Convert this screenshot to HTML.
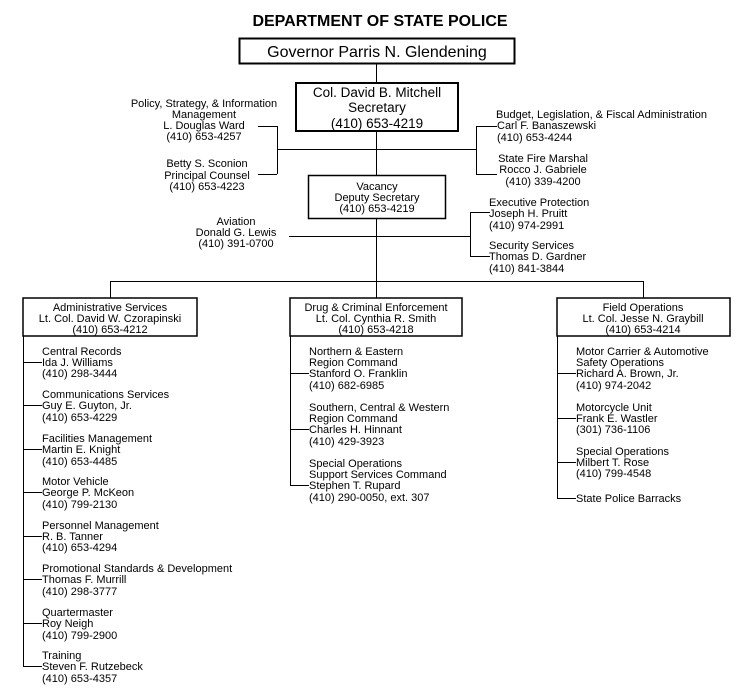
<!DOCTYPE html>
<html><head><meta charset="utf-8"><style>
html,body{margin:0;padding:0;background:#fff;}
svg{display:block;}
text{font-family:"Liberation Sans",Arial,sans-serif;font-size:11px;fill:#000;}
text.big{font-size:13.5px;}
</style></head><body>
<svg width="753" height="696" viewBox="0 0 753 696" xmlns="http://www.w3.org/2000/svg">
<g stroke="#000" fill="none" stroke-width="1">
<rect x="239.5" y="38.5" width="275" height="25" stroke-width="2"/>
<rect x="296" y="83" width="162" height="48" stroke-width="2"/>
<rect x="308.5" y="175.5" width="137" height="43" stroke-width="1.5"/>
<rect x="23" y="298" width="174" height="38" stroke-width="1.5"/>
<rect x="290" y="298" width="172" height="38" stroke-width="1.5"/>
<rect x="557" y="298" width="173" height="38" stroke-width="1.5"/>
<line x1="376.5" y1="64" x2="376.5" y2="83"/>
<line x1="376.5" y1="131" x2="376.5" y2="175"/>
<line x1="376.5" y1="219" x2="376.5" y2="281"/>
<line x1="277" y1="149.5" x2="477" y2="149.5"/>
<line x1="277.5" y1="126" x2="277.5" y2="174"/>
<line x1="258" y1="126.5" x2="277" y2="126.5"/>
<line x1="258" y1="174.5" x2="277" y2="174.5"/>
<line x1="476.5" y1="126" x2="476.5" y2="174"/>
<line x1="476" y1="126.5" x2="497" y2="126.5"/>
<line x1="476" y1="174.5" x2="497" y2="174.5"/>
<line x1="289" y1="236.5" x2="470" y2="236.5"/>
<line x1="470.5" y1="212" x2="470.5" y2="257"/>
<line x1="470" y1="212.5" x2="490" y2="212.5"/>
<line x1="470" y1="256.5" x2="490" y2="256.5"/>
<line x1="110" y1="281.5" x2="644" y2="281.5"/>
<line x1="110.5" y1="281" x2="110.5" y2="298"/>
<line x1="376.5" y1="281" x2="376.5" y2="298"/>
<line x1="643.5" y1="281" x2="643.5" y2="298"/>
<line x1="23.5" y1="336" x2="23.5" y2="666.5"/>
<line x1="23" y1="362.5" x2="42" y2="362.5"/>
<line x1="23" y1="405.5" x2="42" y2="405.5"/>
<line x1="23" y1="449.5" x2="42" y2="449.5"/>
<line x1="23" y1="492.5" x2="42" y2="492.5"/>
<line x1="23" y1="536.5" x2="42" y2="536.5"/>
<line x1="23" y1="579.5" x2="42" y2="579.5"/>
<line x1="23" y1="623.5" x2="42" y2="623.5"/>
<line x1="23" y1="666.5" x2="42" y2="666.5"/>
<line x1="290.5" y1="336" x2="290.5" y2="485.5"/>
<line x1="290" y1="373.5" x2="309" y2="373.5"/>
<line x1="290" y1="429.5" x2="309" y2="429.5"/>
<line x1="290" y1="485.5" x2="309" y2="485.5"/>
<line x1="557.5" y1="336" x2="557.5" y2="498.5"/>
<line x1="557" y1="373.5" x2="576" y2="373.5"/>
<line x1="557" y1="418.5" x2="576" y2="418.5"/>
<line x1="557" y1="462.5" x2="576" y2="462.5"/>
<line x1="557" y1="498.5" x2="576" y2="498.5"/>
</g>

<text x="380" y="26" text-anchor="middle" style="font-size:16px;font-weight:bold">DEPARTMENT OF STATE POLICE</text>
<text x="377" y="57" text-anchor="middle" style="font-size:16px">Governor Parris N. Glendening</text>

<g text-anchor="middle">
<text class="big" x="377" y="97">Col. David B. Mitchell</text>
<text class="big" x="377" y="112">Secretary</text>
<text class="big" x="377" y="128">(410) 653-4219</text>
</g>
<g text-anchor="middle">
<text x="377" y="190">Vacancy</text>
<text x="377" y="201">Deputy Secretary</text>
<text x="377" y="212">(410) 653-4219</text>

<text x="204" y="107">Policy, Strategy, &amp; Information</text>
<text x="204" y="118">Management</text>
<text x="204" y="129">L. Douglas Ward</text>
<text x="204" y="140">(410) 653-4257</text>

<text x="207" y="167">Betty S. Sconion</text>
<text x="207" y="179">Principal Counsel</text>
<text x="207" y="190">(410) 653-4223</text>

<text x="543" y="162">State Fire Marshal</text>
<text x="543" y="173">Rocco J. Gabriele</text>
<text x="543" y="185">(410) 339-4200</text>

<text x="236" y="225">Aviation</text>
<text x="236" y="236">Donald G. Lewis</text>
<text x="236" y="247">(410) 391-0700</text>

<text x="110" y="311">Administrative Services</text>
<text x="110" y="322">Lt. Col. David W. Czorapinski</text>
<text x="110" y="333">(410) 653-4212</text>

<text x="376" y="311">Drug &amp; Criminal Enforcement</text>
<text x="376" y="322">Lt. Col. Cynthia R. Smith</text>
<text x="376" y="333">(410) 653-4218</text>

<text x="643" y="311">Field Operations</text>
<text x="643" y="322">Lt. Col. Jesse N. Graybill</text>
<text x="643" y="333">(410) 653-4214</text>
</g>

<g>
<text x="496" y="118">Budget, Legislation, &amp; Fiscal Administration</text>
<text x="497" y="129">Carl F. Banaszewski</text>
<text x="497" y="141">(410) 653-4244</text>
<text x="489" y="206">Executive Protection</text>
<text x="489" y="217">Joseph H. Pruitt</text>
<text x="489" y="229">(410) 974-2991</text>
<text x="489" y="249">Security Services</text>
<text x="489" y="260">Thomas D. Gardner</text>
<text x="489" y="272">(410) 841-3844</text>
</g>

<g>
<text x="42" y="355">Central Records</text>
<text x="42" y="366">Ida J. Williams</text>
<text x="42" y="377">(410) 298-3444</text>
<text x="42" y="398">Communications Services</text>
<text x="42" y="409">Guy E. Guyton, Jr.</text>
<text x="42" y="421">(410) 653-4229</text>
<text x="42" y="442">Facilities Management</text>
<text x="42" y="453">Martin E. Knight</text>
<text x="42" y="465">(410) 653-4485</text>
<text x="42" y="485">Motor Vehicle</text>
<text x="42" y="496">George P. McKeon</text>
<text x="42" y="508">(410) 799-2130</text>
<text x="42" y="529">Personnel Management</text>
<text x="42" y="540">R. B. Tanner</text>
<text x="42" y="551">(410) 653-4294</text>
<text x="42" y="572">Promotional Standards &amp; Development</text>
<text x="42" y="583">Thomas F. Murrill</text>
<text x="42" y="595">(410) 298-3777</text>
<text x="42" y="616">Quartermaster</text>
<text x="42" y="627">Roy Neigh</text>
<text x="42" y="639">(410) 799-2900</text>
<text x="42" y="659">Training</text>
<text x="42" y="670">Steven F. Rutzebeck</text>
<text x="42" y="682">(410) 653-4357</text>
</g>

<g>
<text x="309" y="355">Northern &amp; Eastern</text>
<text x="309" y="366">Region Command</text>
<text x="309" y="377">Stanford O. Franklin</text>
<text x="309" y="389">(410) 682-6985</text>
<text x="309" y="411">Southern, Central &amp; Western</text>
<text x="309" y="422">Region Command</text>
<text x="309" y="433">Charles H. Hinnant</text>
<text x="309" y="445">(410) 429-3923</text>
<text x="309" y="467">Special Operations</text>
<text x="309" y="478">Support Services Command</text>
<text x="309" y="489">Stephen T. Rupard</text>
<text x="309" y="501">(410) 290-0050, ext. 307</text>
</g>

<g>
<text x="576" y="355">Motor Carrier &amp; Automotive</text>
<text x="576" y="366">Safety Operations</text>
<text x="576" y="377">Richard A. Brown, Jr.</text>
<text x="576" y="389">(410) 974-2042</text>
<text x="576" y="411">Motorcycle Unit</text>
<text x="576" y="422">Frank E. Wastler</text>
<text x="576" y="433">(301) 736-1106</text>
<text x="576" y="455">Special Operations</text>
<text x="576" y="466">Milbert T. Rose</text>
<text x="576" y="477">(410) 799-4548</text>
<text x="576" y="502">State Police Barracks</text>
</g>
</svg>
</body></html>
